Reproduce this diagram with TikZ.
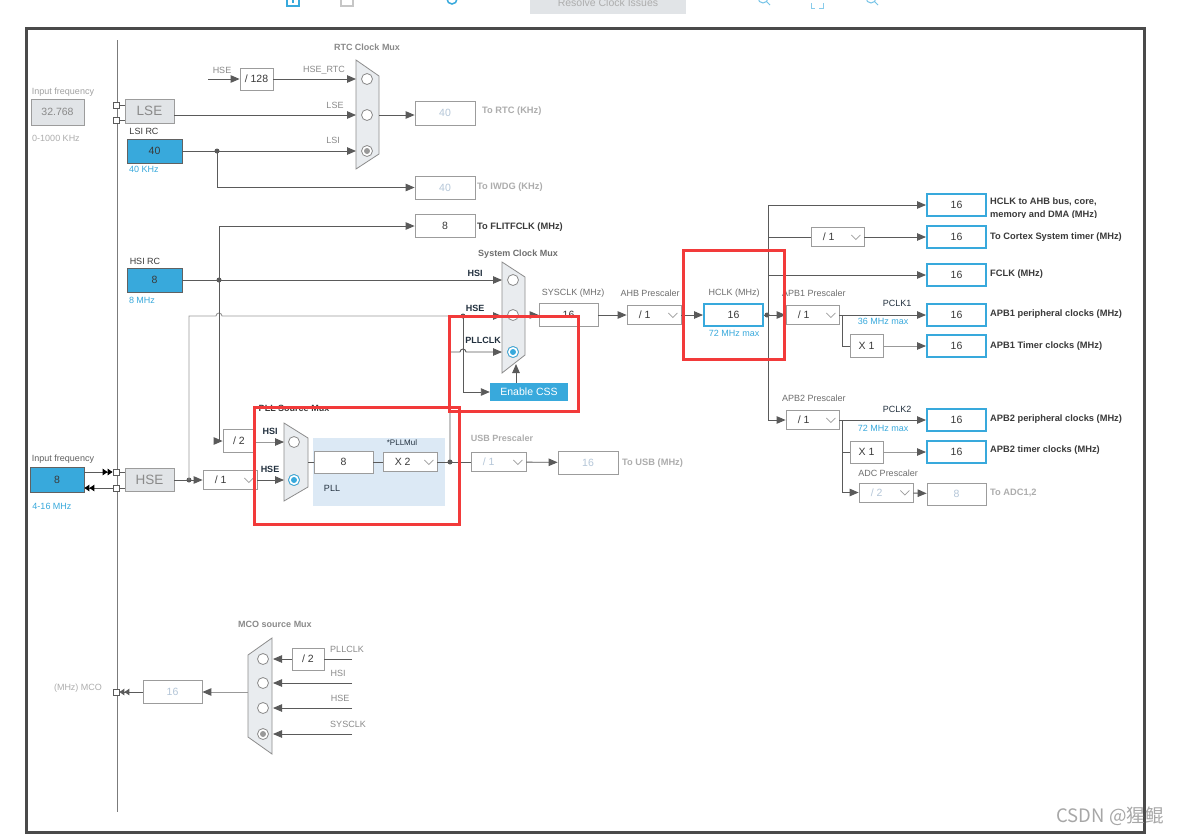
\documentclass[tikz,border=0pt]{standalone}
\usepackage{fontspec}
\setmainfont{Liberation Sans}
\newfontfamily\cjk{Noto Sans CJK SC}
\usetikzlibrary{arrows.meta}
\usepackage{xcolor}

\definecolor{wirec}{HTML}{5A5A5A}
\definecolor{wiredim}{HTML}{999999}
\definecolor{boxc}{HTML}{9C9C9C}
\definecolor{clkblue}{HTML}{38A9DC}
\definecolor{greyfill}{HTML}{E1E4E7}
\definecolor{muxfill}{HTML}{E9ECEF}
\definecolor{txtdark}{HTML}{3A3A3A}
\definecolor{txtgrey}{HTML}{8A8A8A}
\definecolor{txtpale}{HTML}{ADADAD}
\definecolor{numpale}{HTML}{B4C6D8}
\definecolor{txtnavy}{HTML}{22303E}
\definecolor{pllbg}{HTML}{DCE9F5}
\definecolor{markred}{HTML}{F23A3A}
\definecolor{framec}{HTML}{4A4A4A}

\tikzset{
  fnt/.style={font=\fontsize{#1}{#1}\selectfont},
  wire/.style={draw=wirec, line width=0.9pt},
  dimwire/.style={draw=wiredim, line width=0.9pt},
  arr/.style={wire, -{Triangle[length=9pt,width=7.5pt]}},
  dimarr/.style={dimwire, -{Triangle[length=9pt,width=7.5pt,color=wirec]}},
  dbl/.style={-{Triangle[length=5pt,width=6.5pt,color=#1] Triangle[length=5pt,width=6.5pt,color=#1]}},
  box/.style={draw=boxc, fill=white, line width=0.8pt, inner sep=0pt, minimum height=23pt, fnt=10.5, text=txtdark},
  outbox/.style={box, draw=clkblue, line width=2pt, minimum width=59pt, minimum height=22pt},
  inbox/.style={box, draw=txtdark!80, fill=clkblue},
  greybox/.style={box, fill=greyfill, text=txtgrey},
  dimbox/.style={box, text=numpale},
  ddbox/.style={box, minimum height=19pt},
  ddtext/.style={anchor=west, inner sep=0pt, fnt=10.5, text=txtdark},
  chev/.style={draw=boxc, line width=0.8pt},
  css/.style={fill=clkblue, text=white, fnt=10.5, minimum width=78pt, minimum height=18pt, inner sep=0pt},
  lbl/.style={fnt=9, text=txtgrey, inner sep=0pt},
  title/.style={lbl, font=\fontsize{9}{9}\selectfont\bfseries},
  navy/.style={title, text=txtnavy},
  outlbl/.style={font=\fontsize{9.3}{9.3}\selectfont\bfseries, text=txtdark, anchor=west, inner sep=0pt},
  jdot/.style={circle, fill=wirec, inner sep=0pt, minimum size=5pt},
  term/.style={draw=wirec, fill=white, line width=0.8pt, inner sep=0pt, minimum size=6pt},
  mux/.style={draw=boxc!90!black, fill=muxfill, line width=0.8pt},
  muxc/.style={draw=txtgrey, fill=white, line width=0.8pt},
  redbox/.style={draw=markred, line width=3pt}
}

% dropdown prescaler: [text colour] name, centre, width, text
\newcommand{\ddmenu}[5][]{%
  \node[ddbox, minimum width=#4pt, #1] (#2) at #3 {};
  \node[ddtext, #1] at ([xshift=12pt]#2.west) {#5};
  \draw[chev] ([xshift=-13pt,yshift=2pt]#2.east) -- ++(4.5pt,-4.5pt) -- ++(4.5pt,4.5pt);
}

\begin{document}
\begin{tikzpicture}[x=1pt,y=-1pt]
\useasboundingbox (0,0) rectangle (1182,836);
\clip (0,0) rectangle (1182,836);
\fill[white] (0,0) rectangle (1182,836);

% toolbar
\draw[clkblue, line width=1.2pt] (287,0) -- (287,6) -- (299,6) -- (299,0) (293,-4) -- (293,3);
\draw[txtpale!70, line width=1.2pt] (341,-3) -- (341,6) -- (353,6) -- (353,-3);
\draw[clkblue, line width=1.5pt] (447,-1) arc[start angle=180, end angle=360, radius=5pt];
\fill[greyfill] (530,-5) rectangle (686,14);
\node[lbl, fnt=10.5, text=txtpale] (resolve) at (608,3) {Resolve Clock Issues};
\foreach \x in {763,871}
  \draw[clkblue!70, line width=1pt] (\x,-2) circle[radius=5pt] (\x+3.5,1.5) -- (\x+7,5);
\draw[clkblue!60, line width=1pt] (811,3) -- (811,8) -- (815,8) (819,8) -- (823,8) -- (823,3);

% frame and input bus
\draw[framec, line width=3pt] (26,28) rectangle (1144,832);
\draw[wirec!80, line width=0.9pt] (117,40) -- (117,812);

% LSE / LSI / RTC
\node[lbl, text=txtgrey!80] at (63,92) {Input frequency};
\node[greybox, minimum width=53pt, minimum height=26pt] (lsefreq) at (57.5,112) {32.768};
\node[lbl, text=txtpale] at (56,138) {0-1000 KHz};
\node[term] (lset1) at (116,105) {};
\node[term] (lset2) at (116,120) {};
\node[greybox, minimum width=49pt, minimum height=24pt, fnt=13.5] (lse) at (149.5,111) {LSE};
\draw[wire] (lset1) -- (lse.west |- lset1);
\draw[wire] (lset2) -- (lse.west |- lset2);
\node[lbl, text=txtdark] at (144,131) {LSI RC};
\node[inbox, minimum width=55pt, minimum height=24pt] (lsi) at (154.5,151) {40};
\node[lbl, text=clkblue] at (144,169) {40 KHz};

\filldraw[mux] (356,60) -- (379,76) -- (379,154) -- (356,169) -- cycle;
\foreach \y in {79,115,151} \draw[muxc] (367,\y) circle[radius=5.5pt];
\fill[wiredim] (367,151) circle[radius=3pt];
\node[title] at (367,47) {RTC Clock Mux};
\coordinate (rtcin1) at (356,79);
\coordinate (rtcin2) at (356,115);
\coordinate (rtcin3) at (356,151);
\coordinate (rtcout) at (379,115);

\coordinate (hsertc) at (208,79);
\node[box, minimum width=33pt, minimum height=22pt] (div128) at (256.5,79) {/ 128};
\draw[arr] (hsertc) -- (div128);
\node[lbl] at (222,70) {HSE};
\draw[arr] (div128) -- (rtcin1);
\node[lbl] at (324,70) {HSE\_RTC};
\draw[arr] ([yshift=-4pt]lse.east) -- (rtcin2);
\node[lbl] at (335,105) {LSE};
\node[jdot] (lsij) at (217,151) {};
\draw[arr] (lsi) -- (rtcin3);
\node[lbl] at (333,140) {LSI};
\node[dimbox, minimum width=60pt, minimum height=24pt] (rtc) at (445,113) {40};
\draw[arr] (rtcout) -- (rtcout -| rtc.west);
\node[outlbl, text=txtpale] at (482,111) {To RTC (KHz)};
\node[dimbox, minimum width=60pt] (iwdg) at (445,187.5) {40};
\draw[arr] (lsij.center) |- (iwdg);
\node[outlbl, text=txtpale] at (477,187.5) {To IWDG (KHz)};

% HSI
\node[box, minimum width=60pt] (flit) at (445,226) {8};
\node[outlbl] at (477,227) {To FLITFCLK (MHz)};
\node[lbl, text=txtdark] at (145,261) {HSI RC};
\node[inbox, minimum width=55pt, minimum height=24pt] (hsi) at (154.5,280) {8};
\node[lbl, text=clkblue] at (142,300) {8 MHz};
\node[jdot] (hsij) at (219,280) {};

% system clock mux
\filldraw[mux] (502,262) -- (525,277) -- (525,355) -- (502,373) -- cycle;
\foreach \y in {280,315,352} \draw[muxc] (513,\y) circle[radius=5.5pt];
\draw[muxc, draw=clkblue] (513,352) circle[radius=5.5pt];
\fill[clkblue] (513,352) circle[radius=3pt];
\node[title, text=txtgrey!80!black] at (518,254) {System Clock Mux};
\coordinate (sysin1) at (502,280);
\coordinate (sysin2) at (502,316);
\coordinate (sysin3) at (502,352);
\coordinate (sysout) at (525,315);
\coordinate (sysbot) at (516,364);
\draw[arr] (hsi) -- (sysin1);
\node[navy] at (475,273) {HSI};
\node[navy] at (475,308) {HSE};
\node[navy] at (483,340) {PLLCLK};

% HSE input
\node[lbl, text=txtdark!80] at (63,459) {Input frequency};
\node[inbox, minimum width=54pt, minimum height=25pt] (hsein) at (57,479.5) {8};
\node[lbl, text=clkblue] at (52,506) {4-16 MHz};
\node[term] (hset1) at (116,472) {};
\node[term] (hset2) at (116,488) {};
\draw[wire, dbl=black] (hsein.east |- hset1) -- (hset1);
\draw[wire, dbl=black] (hset2) -- (hsein.east |- hset2);
\node[greybox, minimum width=49pt, minimum height=23pt, fnt=13.5] (hse) at (149.5,480) {HSE};
\draw[wire] (hset1) -- (hse.west |- hset1);
\draw[wire] (hset2) -- (hse.west |- hset2);
\node[jdot] (hsej) at (189,480) {};
\ddmenu{hsediv}{(230,480)}{54}{/ 1}
\draw[arr] (hse) -- (hsediv);
\draw[dimwire, -{Triangle[length=9pt,width=7.5pt,color=wirec]}] (hsej.center) -- (189,316) -- (216,316)
  arc[start angle=180, end angle=0, radius=3pt] -- (sysin2);
\node[jdot] (cssj) at (463,316) {};
\node[css] (css) at (529,392) {Enable CSS};
\draw[arr] (cssj.center) |- (css);
\draw[arr] ([xshift=-13pt]css.north) -- (sysbot);

% flitf and pll hsi taps
\draw[arr] (hsij.center) |- (flit);

% PLL
\fill[pllbg] (313,438) rectangle (445,506);
\filldraw[mux] (284,423) -- (308,438) -- (308,487) -- (284,501) -- cycle;
\foreach \y in {442,480} \draw[muxc] (294,\y) circle[radius=5.5pt];
\draw[muxc, draw=clkblue] (294,480) circle[radius=5.5pt];
\fill[clkblue] (294,480) circle[radius=3pt];
\coordinate (pllin1) at (284,442);
\coordinate (pllin2) at (284,480);
\coordinate (pllmuxout) at (308,462);
\node[title, text=txtdark] at (294,408) {PLL Source Mux};
\node[box, minimum width=32pt] (div2) at (239,441) {/ 2};
\draw[arr] (hsij.center) |- (div2);
\draw[dimarr] (div2.east |- pllin1) -- (pllin1);
\node[navy] at (270,431) {HSI};
\draw[arr] (hsediv) -- (pllin2);
\node[navy] at (270,469) {HSE};
\node[box, minimum width=59pt, minimum height=22pt] (pllsrc) at (343.5,462) {8};
\draw[wire] (pllmuxout) -- (pllsrc);
\ddmenu{pllmul}{(410,462)}{54}{X 2}
\draw[wire] (pllsrc) -- (pllmul);
\node[lbl, fnt=8, text=txtnavy] at (402,443) {*PLLMul};
\node[lbl, text=txtnavy] at (332,488) {PLL};
\node[jdot] (pllj) at (450,462) {};
\ddmenu[text=numpale]{usbdiv}{(498.5,462)}{55}{/ 1}
\draw[wire] (pllmul) -- (usbdiv);
\node[dimbox, minimum width=60pt] (usb) at (588,462.5) {16};
\draw[arr] (usbdiv) -- (usb);
\node[title, text=txtpale] at (502,438) {USB Prescaler};
\node[outlbl, text=txtpale] at (622,463) {To USB (MHz)};
\draw[arr] (pllj.center) -- (450,352) -- (460,352)
  arc[start angle=180, end angle=0, radius=3pt] -- (sysin3);

% SYSCLK / AHB / HCLK
\node[box, minimum width=59pt] (sysclk) at (568.5,315) {16};
\draw[arr] (sysout) -- (sysclk);
\ddmenu{ahb}{(654,315)}{54}{/ 1}
\draw[arr] (sysclk) -- (ahb);
\node[outbox] (hclk) at (733.5,315) {16};
\draw[arr] (ahb) -- (hclk);
\node[lbl, text=txtgrey!80!black] at (573,293) {SYSCLK (MHz)};
\node[lbl, text=txtgrey!80!black] at (650,293) {AHB Prescaler};
\node[lbl, text=txtgrey!80!black] at (734,293) {HCLK (MHz)};
\node[lbl, text=clkblue] at (734,333) {72 MHz max};
\node[jdot] (hclkj) at (767,315) {};
\ddmenu{apb1}{(812.5,315)}{53}{/ 1}
\draw[arr] (hclk) -- (apb1);
\coordinate (hbustop) at (768,205);
\coordinate (hbusbot) at (768,420);
\draw[wire] (hbustop) -- (hbusbot);

% HCLK outputs
\node[outbox] (ahbout) at (956.5,205) {16};
\draw[arr] (hbustop) -- (ahbout);
\ddmenu{cortexdiv}{(837.5,237)}{53}{/ 1}
\node[outbox] (cortex) at (956.5,237) {16};
\draw[wire] (cortexdiv -| hbustop) -- (cortexdiv);
\draw[arr] (cortexdiv) -- (cortex);
\node[outbox] (fclk) at (956.5,275) {16};
\draw[arr] (fclk -| hbustop) -- (fclk);

% APB1
\node[lbl, text=txtgrey!80!black, anchor=west] at (782,293) {APB1 Prescaler};
\node[outbox] (apb1p) at (956.5,315) {16};
\draw[arr] (apb1) -- (apb1p);
\node[lbl, text=txtnavy] at (897,303) {PCLK1};
\node[lbl, text=clkblue] at (883,321) {36 MHz max};
\coordinate (apb1br) at (842,315);
\node[box, minimum width=33pt] (apb1x) at (866.5,346) {X 1};
\node[outbox] (apb1t) at (956.5,346) {16};
\draw[wire] (apb1br) |- (apb1x);
\draw[dimarr] (apb1x) -- (apb1t);

% APB2
\node[lbl, text=txtgrey!80!black, anchor=west] at (782,398) {APB2 Prescaler};
\ddmenu{apb2}{(812.5,420)}{53}{/ 1}
\draw[arr] (hbusbot) -- (apb2);
\node[outbox] (apb2p) at (956.5,420) {16};
\draw[arr] (apb2) -- (apb2p);
\node[lbl, text=txtnavy] at (897,409) {PCLK2};
\node[lbl, text=clkblue] at (883,428) {72 MHz max};
\coordinate (apb2br) at (842,420);
\node[box, minimum width=33pt, minimum height=22pt] (apb2x) at (866.5,452) {X 1};
\node[outbox] (apb2t) at (956.5,452) {16};
\draw[wire] (apb2br) |- (apb2x);
\draw[dimarr] (apb2x) -- (apb2t);
\node[lbl, text=txtgrey!80!black] at (888,473) {ADC Prescaler};
\ddmenu[text=numpale]{adcdiv}{(886,492.5)}{54}{/ 2}
\draw[arr] (apb2br) |- (adcdiv);
\node[dimbox, minimum width=59pt, minimum height=22pt] (adc) at (956.5,494) {8};
\draw[arr] (adcdiv) -- (adc);

% output labels
\begin{scope}
  \clip (988,190) rectangle (1140,217);
  \node[outlbl] at (990,202) {HCLK to AHB bus, core,};
  \node[outlbl] at (990,215.5) {memory and DMA (MHz)};
\end{scope}
\node[outlbl] at (990,237) {To Cortex System timer (MHz)};
\node[outlbl] at (990,274) {FCLK (MHz)};
\node[outlbl] at (990,314) {APB1 peripheral clocks (MHz)};
\node[outlbl] at (990,346) {APB1 Timer clocks (MHz)};
\node[outlbl] at (990,419) {APB2 peripheral clocks (MHz)};
\node[outlbl] at (990,450) {APB2 timer clocks (MHz)};
\node[outlbl, text=txtpale] at (990,493) {To ADC1,2};

% MCO
\filldraw[mux] (272,638) -- (248,655) -- (248,737) -- (272,754) -- cycle;
\foreach \y in {659,683,708,734} \draw[muxc] (263,\y) circle[radius=5.5pt];
\fill[wiredim] (263,734) circle[radius=3pt];
\node[title] at (275,624) {MCO source Mux};
\coordinate (mcopll) at (352,659);
\coordinate (mcohsi) at (352,683);
\coordinate (mcohse) at (352,708);
\coordinate (mcosys) at (352,734);
\coordinate (mcoout) at (248,692);
\node[box, minimum width=32pt, minimum height=22pt] (mcodiv) at (308,659) {/ 2};
\draw[wire] (mcopll) -- (mcodiv);
\draw[arr] (mcodiv) -- (273,659);
\foreach \c in {mcohsi,mcohse,mcosys} \draw[arr] (\c) -- (\c -| 273,0);
\node[lbl, text=txtgrey] at (347,649) {PLLCLK};
\node[lbl, text=txtgrey] at (338,673) {HSI};
\node[lbl, text=txtgrey] at (340,698) {HSE};
\node[lbl, text=txtgrey] at (348,724) {SYSCLK};
\node[dimbox, minimum width=59pt] (mco) at (172.5,692) {16};
\draw[dimarr] (mcoout) -- (mco);
\node[term] (mcot) at (116,692) {};
\draw[wire, dbl=wirec] (mco) -- (mcot);
\node[lbl, text=txtpale] at (78,688) {(MHz) MCO};

% red annotation boxes
\draw[redbox] (683,250) rectangle (784,359);
\draw[redbox] (449,316) rectangle (578,411);
\draw[redbox] (254,407) rectangle (459,524);

% watermark
\node[font=\cjk\fontsize{18.5}{18.5}\selectfont, text=txtgrey!75] (wm) at (1110,816) {CSDN @猩鲲};
\end{tikzpicture}
\end{document}
